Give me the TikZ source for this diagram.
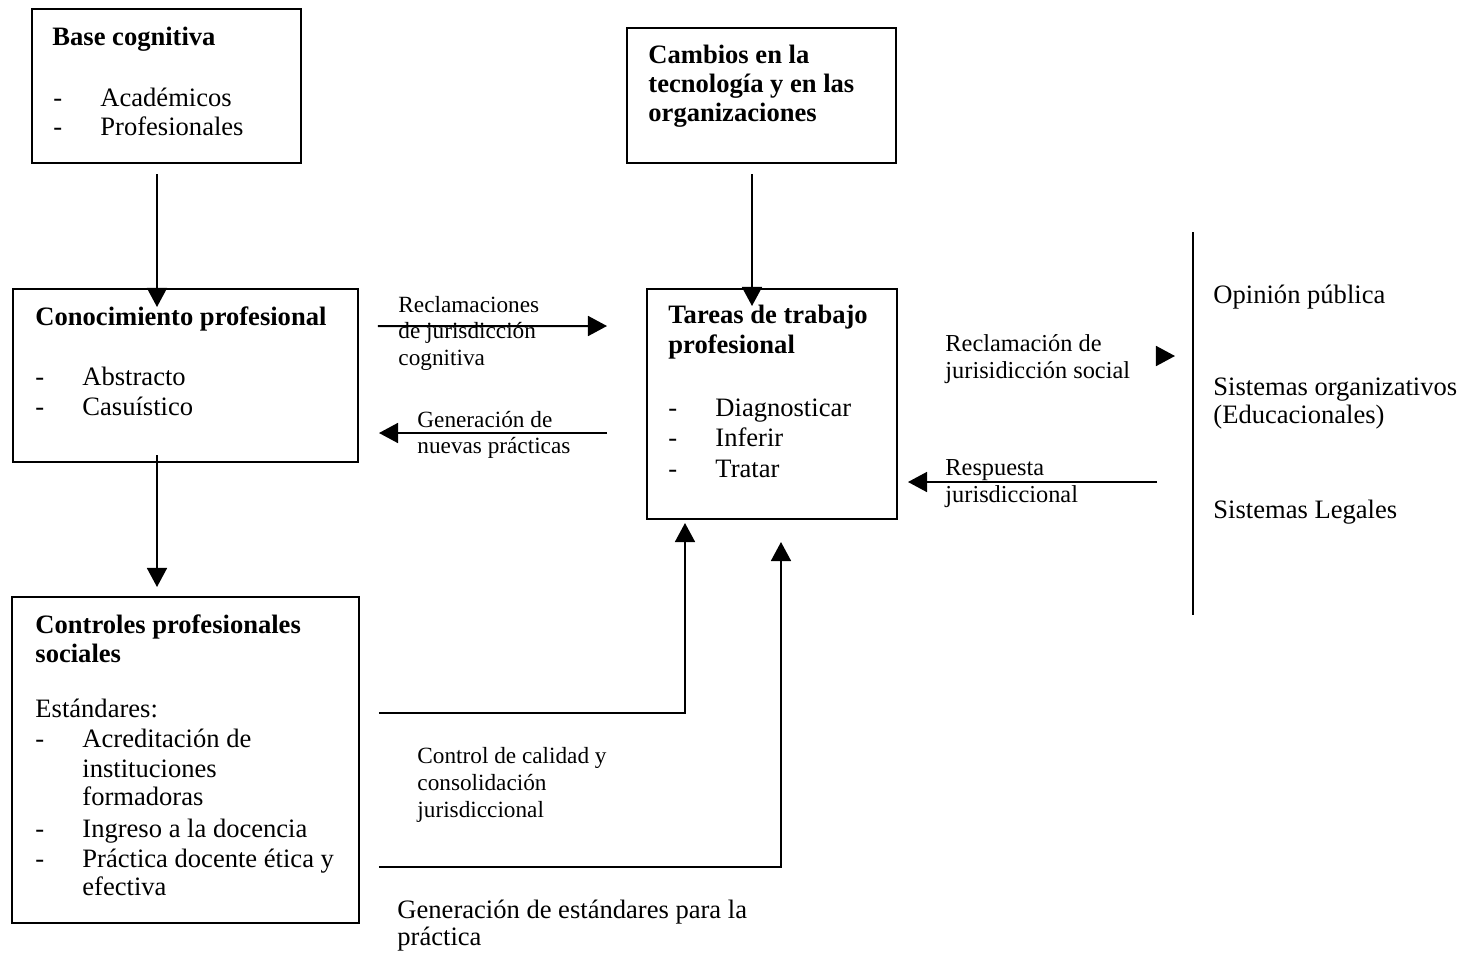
\documentclass[tikz,border=0pt]{standalone}
\usepackage{fontspec}
\setmainfont{Liberation Serif}
\usetikzlibrary{arrows.meta,fit,calc}

\tikzset{
	box/.style={draw, line width=0.9pt, inner sep=0pt},
	txt/.style={anchor=base west, inner sep=0pt, font=\fontsize{12}{14}\selectfont},
	ttl/.style={txt, font=\fontsize{12}{14}\selectfont\bfseries},
	lbl/.style={txt, font=\fontsize{10.5}{12}\selectfont},
	rlbl/.style={txt, font=\fontsize{11}{12}\selectfont},
	arr/.style={line width=0.9pt, -{Triangle[length=8.6pt,width=9pt]}},
}

\begin{document}
\begin{tikzpicture}[x=0.4517pt, y=-0.4517pt]
		\useasboundingbox (0,0) rectangle (1463,955);
		% boxes
		\node[box, fit={(32,9) (301,163)}] (base) {};
		\node[box, fit={(627,28) (896,163)}] (cambios) {};
		\node[box, fit={(13,289) (358,462)}] (conoc) {};
		\node[box, fit={(647,289) (897,519)}] (tareas) {};
		\node[box, fit={(12,597) (359,923)}] (control) {};
		\coordinate (pubtop) at (1193,232);
		\coordinate (pubbot) at (1193,615);
		\coordinate (soc) at (922,356);
		\coordinate (resp) at (1157,482);
		\draw[line width=0.9pt] (pubtop) -- (pubbot);

		% connectors
		\draw[arr] ($(base.south)+(-9.5,10)$) -- ($(conoc.north)+(-28.5,19)$);
		\draw[arr] ($(cambios.south)+(-9.5,10)$) -- ($(tareas.north)+(-20,18)$);
		\draw[arr] ($(conoc.south)+(-28.5,-8)$) -- ($(control.north)+(-28.5,-9)$);
		\draw[arr] ($(conoc.east)+(19,-49.5)$) -- ($(tareas.west)+(-39,-78)$);
		\draw[arr] ($(tareas.west)+(-39,29)$) -- ($(conoc.east)+(20,57.5)$);
		\draw[line width=0.9pt, white, -{Triangle[length=8.6pt,width=9pt,color=black]}] (soc) -- ($(pubtop |- soc)+(-18,0)$);
		\draw[arr] (resp) -- ($(tareas.east)+(10,78)$);
		\draw[arr] ($(control.east)+(19,-47)$) -| ($(tareas.south)+(-87,3)$);
		\draw[arr] ($(control.east)+(19,107)$) -| ($(tareas.south)+(9,22)$);

		% Base cognitiva
		\node[ttl] (bt) at (52,45) {Base cognitiva};
		\node[txt] (bd1) at (53,106) {-};
		\node[txt] (b1) at (100,106) {Académicos};
		\node[txt] (bd2) at (53,135) {-};
		\node[txt] (b2) at (100,135) {Profesionales};

		% Cambios
		\node[ttl] (ct1) at (648,63) {Cambios en la};
		\node[ttl] (ct2) at (648,92) {tecnología y en las};
		\node[ttl] (ct3) at (648,121) {organizaciones};

		% Conocimiento profesional
		\node[ttl] (kt) at (35,325) {Conocimiento profesional};
		\node[txt] (kd1) at (35,385) {-};
		\node[txt] (k1) at (82,385) {Abstracto};
		\node[txt] (kd2) at (35,415) {-};
		\node[txt] (k2) at (82,415) {Casuístico};

		% Tareas
		\node[ttl] (tt1) at (668,323) {Tareas de trabajo};
		\node[ttl] (tt2) at (668,353) {profesional};
		\node[txt] (td1) at (668,416) {-};
		\node[txt] (t1) at (715,416) {Diagnosticar};
		\node[txt] (td2) at (668,446) {-};
		\node[txt] (t2) at (715,446) {Inferir};
		\node[txt] (td3) at (668,477) {-};
		\node[txt] (t3) at (715,477) {Tratar};

		% Controles
		\node[ttl] (st1) at (35,633) {Controles profesionales};
		\node[ttl] (st2) at (35,662) {sociales};
		\node[txt] (s0) at (35,717) {Estándares:};
		\node[txt] (sd1) at (35,747) {-};
		\node[txt] (s1) at (82,747) {Acreditación de};
		\node[txt] (s2) at (82,777) {instituciones};
		\node[txt] (s3) at (82,805) {formadoras};
		\node[txt] (sd2) at (35,837) {-};
		\node[txt] (s4) at (82,837) {Ingreso a la docencia};
		\node[txt] (sd3) at (35,867) {-};
		\node[txt] (s5) at (82,867) {Práctica docente ética y};
		\node[txt] (s6) at (82,895) {efectiva};

		% labels
		\node[lbl] (r1) at (398,312) {Reclamaciones};
		\node[lbl] (r2) at (398,338) {de jurisdicción};
		\node[lbl] (r3) at (398,365) {cognitiva};
		\node[lbl] (g1) at (417,427) {Generación de};
		\node[lbl] (g2) at (417,453) {nuevas prácticas};
		\node[lbl] (q1) at (417,763) {Control de calidad y};
		\node[lbl] (q2) at (417,790) {consolidación};
		\node[lbl] (q3) at (417,817) {jurisdiccional};
		\node[txt] (e1) at (397,918) {Generación de estándares para la};
		\node[txt] (e2) at (397,945) {práctica};
		\node[rlbl] (j1) at (945,351) {Reclamación de};
		\node[rlbl] (j2) at (945,378) {jurisidicción social};
		\node[rlbl] (p1) at (945,475) {Respuesta};
		\node[rlbl] (p2) at (945,502) {jurisdiccional};

		% public
		\node[txt] (o1) at (1213,303) {Opinión pública};
		\node[txt] (o2) at (1213,395) {Sistemas organizativos};
		\node[txt] (o3) at (1213,423) {(Educacionales)};
		\node[txt] (o4) at (1213,518) {Sistemas Legales};
	\end{tikzpicture}
\end{document}
